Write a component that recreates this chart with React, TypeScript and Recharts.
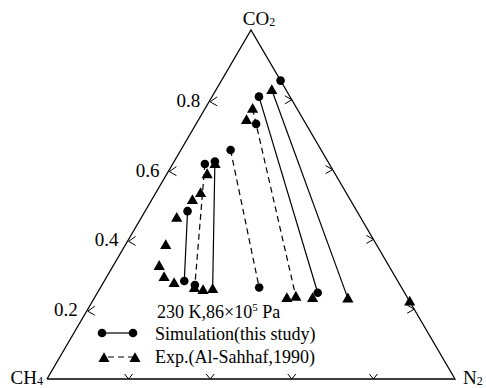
import { ScatterChart, Scatter, XAxis, YAxis } from "recharts";

// Mole fractions (CO2, N2); CH4 is the remainder.
const simCO2 = [0.855, 0.809, 0.731, 0.656, 0.623, 0.616, 0.481, 0.281, 0.269, 0.262, 0.247];
const simN2 = [0.145, 0.115, 0.147, 0.122, 0.100, 0.079, 0.104, 0.196, 0.228, 0.389, 0.540];

const expCO2 = [0.828, 0.774, 0.742, 0.616, 0.587, 0.533, 0.513, 0.462, 0.384, 0.324, 0.292, 0.275, 0.261, 0.255, 0.258, 0.232, 0.236, 0.232, 0.231, 0.222];
const expN2 = [0.137, 0.117, 0.118, 0.104, 0.099, 0.110, 0.100, 0.087, 0.099, 0.113, 0.141, 0.174, 0.231, 0.255, 0.277, 0.472, 0.492, 0.535, 0.622, 0.778];

// tie lines between phases: s = simulation point, e = experimental point
const tieLines = [
  { a: "s1", b: "s10", dashed: false },
  { a: "e0", b: "e18", dashed: false },
  { a: "s4", b: "e14", dashed: false },
  { a: "s6", b: "s7", dashed: false },
  { a: "e1", b: "e16", dashed: true },
  { a: "s3", b: "s9", dashed: true },
  { a: "s5", b: "s8", dashed: true },
];

const tickValues = [0.2, 0.4, 0.6, 0.8];
const tickLabels = ["0.2", "0.4", "0.6", "0.8"];

const FONT = "'Liberation Serif', 'Times New Roman', serif";

// ternary -> cartesian: CH4 bottom-left, N2 bottom-right, CO2 on top
const toXY = (co2: number, n2: number) => ({ x: n2 + co2 / 2, y: co2 });

const pointOf = (id: string) => {
  const i = Number(id.slice(1));
  return id[0] === "s" ? toXY(simCO2[i], simN2[i]) : toXY(expCO2[i], expN2[i]);
};

const simData = simCO2.map((c, i) => toXY(c, simN2[i]));
const expData = expCO2.map((c, i) => toXY(c, expN2[i]));
const frame = [toXY(0, 0), toXY(0, 1), toXY(1, 0), toXY(0, 0)];

const leftTicks = tickValues.map((v, i) => ({ ...toXY(v, 0), side: "left", label: tickLabels[i] }));
const rightTicks = tickValues.map((v) => ({ ...toXY(v, 1 - v), side: "right" }));
const bottomTicks = tickValues.map((v) => ({ ...toXY(0, v), side: "bottom" }));
const ticks = [...leftTicks, ...rightTicks, ...bottomTicks];

const corners = [
  { ...toXY(1, 0), name: "CO", sub: "2", pos: "top" },
  { ...toXY(0, 0), name: "CH", sub: "4", pos: "left" },
  { ...toXY(0, 1), name: "N", sub: "2", pos: "right" },
];

const Nothing = () => <g />;

const Dot = (p: any) => <circle cx={p.cx} cy={p.cy} r={4.3} fill="#000" />;

const Tri = (p: any) => (
  <path d={`M${p.cx},${p.cy - 5.8}L${p.cx + 5.6},${p.cy + 4}L${p.cx - 5.6},${p.cy + 4}Z`} fill="#000" />
);

const Chevron = (p: any) => {
  const { cx, cy } = p;
  const side = p.payload?.side ?? p.side;
  let d = "";
  if (side === "left") d = `M${cx + 7},${cy - 3}L${cx},${cy + 2}L${cx + 7},${cy + 6}`;
  else if (side === "right") d = `M${cx - 7},${cy - 4}L${cx},${cy}L${cx - 7},${cy + 4}`;
  else d = `M${cx - 4},${cy - 5}L${cx},${cy}L${cx + 4},${cy - 5}`;
  const label = p.payload?.label ?? p.label;
  return (
    <g>
      <path d={d} fill="none" stroke="#000" strokeWidth={1} />
      {label ? (
        <text x={cx - 10} y={cy + 7} textAnchor="end" fontFamily={FONT} fontSize={19} fill="#000">
          {label}
        </text>
      ) : null}
    </g>
  );
};

const CornerLabel = (p: any) => {
  const { cx, cy } = p;
  const d = p.payload ?? p;
  let x = cx;
  let y = cy;
  let anchor = "middle";
  if (d.pos === "top") {
    x = cx + 8;
    y = cy - 5;
  } else if (d.pos === "left") {
    x = cx - 4;
    y = cy + 5;
    anchor = "end";
  } else {
    x = cx + 8;
    y = cy + 5;
    anchor = "start";
  }
  return (
    <text x={x} y={y} textAnchor={anchor} fontFamily={FONT} fontSize={19} fill="#000">
      {d.name}
      <tspan fontSize={12} dy={1}>
        {d.sub}
      </tspan>
    </text>
  );
};

function Legend() {
  return (
    <svg width={486} height={388} style={{ position: "absolute", left: 0, top: 0, pointerEvents: "none" }}>
      <g fontFamily={FONT} fontSize={18} fill="#000">
        <text x={157} y={318}>
          230 K,86×10
          <tspan fontSize={11} dy={-7}>
            5
          </tspan>
          <tspan dy={7}> Pa</tspan>
        </text>
        <line x1={102} y1={333} x2={133} y2={333} stroke="#000" strokeWidth={1.2} />
        <circle cx={102} cy={333} r={4.3} />
        <circle cx={133} cy={333} r={4.3} />
        <text x={155} y={340}>Simulation(this study)</text>
        <line x1={104} y1={357} x2={135} y2={357} stroke="#000" strokeWidth={1.2} strokeDasharray="6 4" strokeDashoffset={-4} />
        <path d="M104,352.2L109.6,362L98.4,362Z" />
        <path d="M135,352.2L140.6,362L129.4,362Z" />
        <text x={155} y={363}>Exp.(Al-Sahhaf,1990)</text>
      </g>
    </svg>
  );
}

export default function App() {
  return (
    <div style={{ position: "absolute", left: 0, top: 0, width: 486, height: 388, background: "#fff" }}>
      <ScatterChart width={486} height={388} margin={{ top: 30, right: 31, bottom: 9, left: 47 }}>
        <XAxis type="number" dataKey="x" domain={[0, 1]} hide />
        <YAxis type="number" dataKey="y" domain={[0, 1]} hide />
        <Scatter
          data={frame}
          line={{ stroke: "#000", strokeWidth: 1.3 }}
          shape={Nothing}
          isAnimationActive={false}
        />
        <Scatter data={ticks} shape={Chevron} isAnimationActive={false} />
        <Scatter data={corners} shape={CornerLabel} isAnimationActive={false} />
        {tieLines.map((t, i) => (
          <Scatter
            key={i}
            data={[pointOf(t.a), pointOf(t.b)]}
            line={{ stroke: "#000", strokeWidth: 1.2, strokeDasharray: t.dashed ? "6 4" : undefined }}
            shape={Nothing}
            isAnimationActive={false}
          />
        ))}
        <Scatter data={simData} shape={Dot} isAnimationActive={false} />
        <Scatter data={expData} shape={Tri} isAnimationActive={false} />
      </ScatterChart>
      <Legend />
    </div>
  );
}
